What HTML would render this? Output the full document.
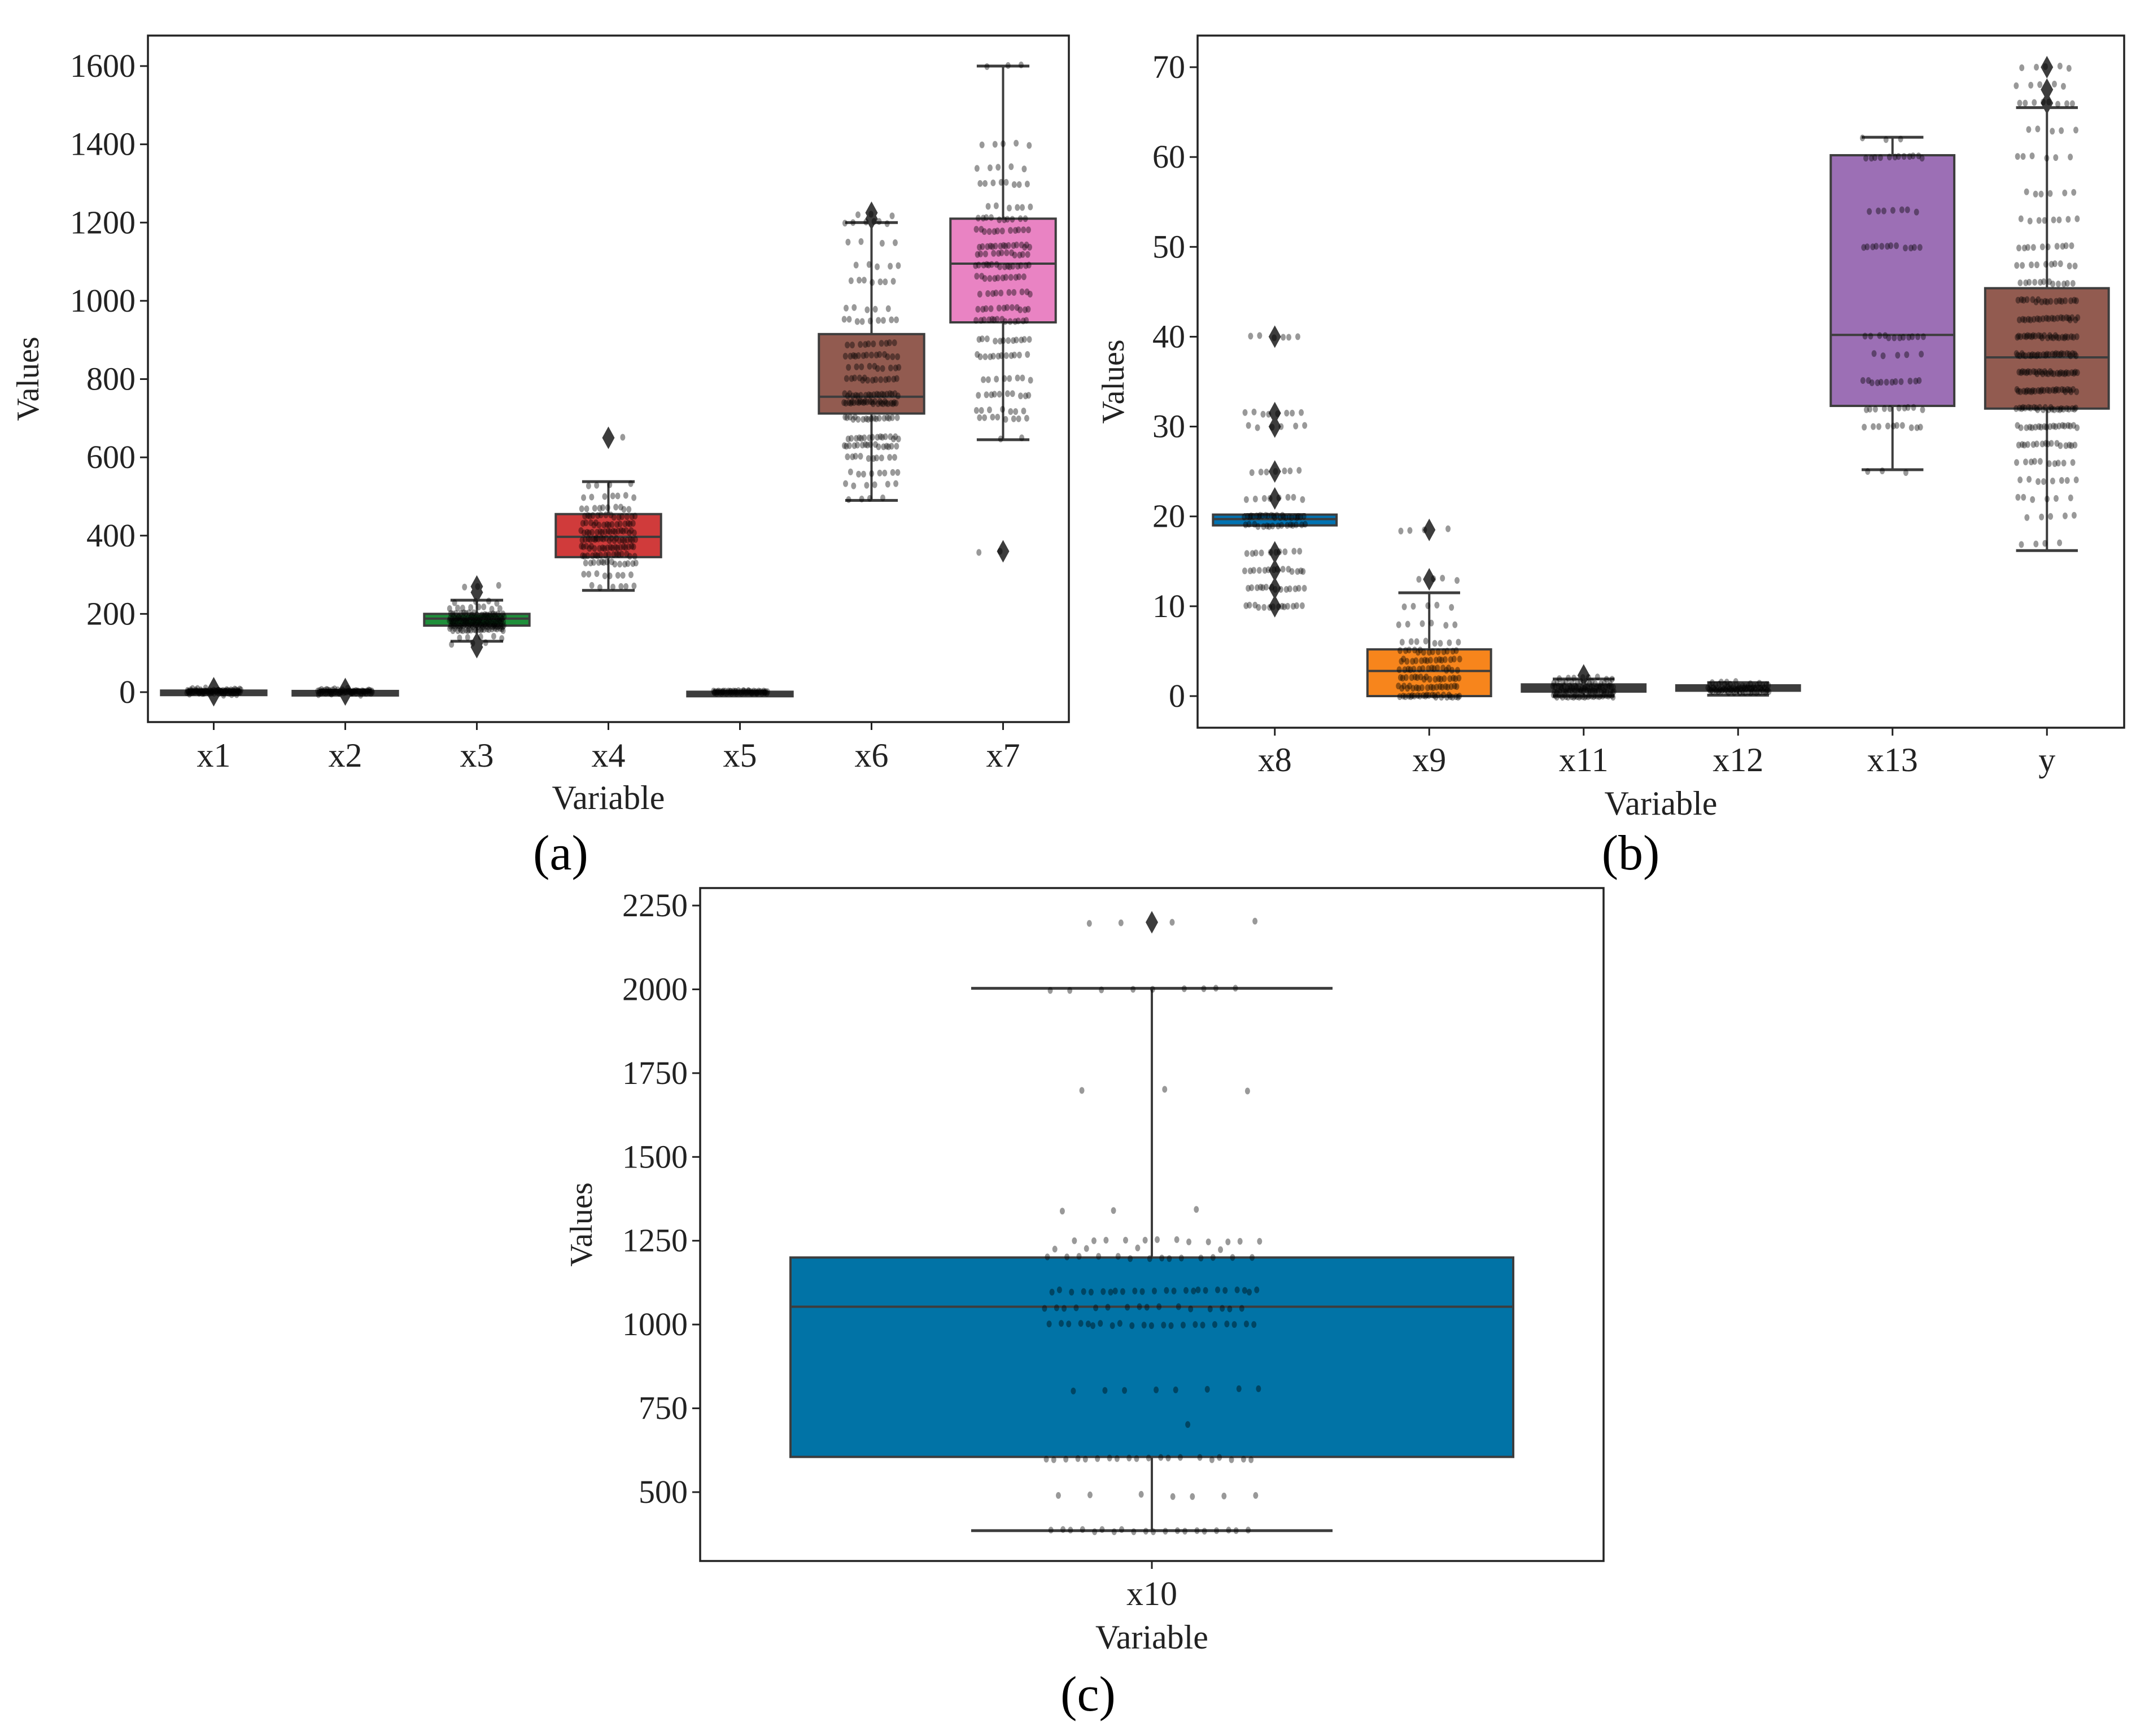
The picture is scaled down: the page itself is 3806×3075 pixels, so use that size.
<!DOCTYPE html>
<html><head><meta charset="utf-8">
<style>
html,body{margin:0;padding:0;background:#fff;}
svg{display:block;font-family:"Liberation Serif",serif;}
</style></head>
<body>
<svg id="chart" width="3806" height="3075" viewBox="0 0 3806 3075" xmlns="http://www.w3.org/2000/svg"></svg>
<script>
// ---- Panel (a) data ----
const aCats = ["x1","x2","x3","x4","x5","x6","x7"];
const aColors = ["#3d3d3d","#3d3d3d","#1e8f3a","#d03b3b","#3d3d3d","#925b50","#e983c3"];
const aQ1 = [0, 0, 170, 345, 0, 712, 945];
const aMed = [2, 1, 188, 397, 0, 755, 1095];
const aQ3 = [4, 3, 200, 455, 1, 915, 1210];
const aLo = [0, 0, 130, 260, 0, 490, 645];
const aHi = [6, 5, 235, 538, 2, 1200, 1600];
const aFliers = [[-8,10],[-6,8],[115,125,255,270],[650],[],[1210,1225],[360]];
const aPoints = [
 [[0,40],[3,30],[8,8],[-5,6]],
 [[0,40],[3,20],[7,6],[-5,5]],
 [[160,25],[170,35],[180,40],[190,35],[200,18],[215,8],[230,4],[140,5],[125,3],[270,3]],
 [[270,6],[300,8],[330,14],[350,16],[370,20],[390,22],[410,20],[430,16],[450,14],[470,10],[500,7],[530,4],[650,1]],
 [[0,50],[1,15]],
 [[495,4],[530,6],[560,8],[600,10],[630,16],[650,16],[700,18],[740,28],[760,20],[800,14],[830,10],[860,14],[890,10],[950,9],[980,5],[1050,7],[1090,5],[1150,4],[1200,6],[1220,3]],
 [[650,2],[700,8],[720,7],[760,10],[800,8],[860,12],[900,12],[950,14],[980,12],[1020,10],[1060,12],[1090,16],[1120,12],[1140,16],[1180,12],[1210,10],[1240,6],[1300,8],[1340,5],[1400,5],[1600,3],[360,2]]
];
const aTicks = [0,200,400,600,800,1000,1200,1400,1600];

// ---- Panel (b) data ----
const bCats = ["x8","x9","x11","x12","x13","y"];
const bColors = ["#0173b2","#f7851c","#3d3d3d","#3d3d3d","#9c6fb5","#925b50"];
const bQ1 = [19.0, 0.0, 0.5, 0.6, 32.3, 32.0];
const bMed = [19.7, 2.8, 0.9, 0.8, 40.2, 37.7];
const bQ3 = [20.2, 5.2, 1.3, 1.2, 60.2, 45.4];
const bLo = [19.0, 0.0, 0.0, 0.1, 25.2, 16.2];
const bHi = [20.2, 11.5, 1.9, 1.5, 62.2, 65.5];
const bFliers = [[10,12,14,16,22,25,30,31.5,40],[13,18.5],[2.3],[],[],[66,67.5,70]];
const bPoints = [
 [[10,14],[12,14],[14,14],[16,10],[19,16],[20,26],[22,8],[25,7],[30,6],[31.5,8],[40,6]],
 [[0,26],[1,20],[2,18],[3,16],[4,16],[5,14],[6,8],[8,6],[10,5],[13,4],[18.5,4]],
 [[0,35],[0.5,28],[1,28],[1.5,14],[2,8]],
 [[0.5,28],[0.8,28],[1.2,16],[1.5,6]],
 [[25,3],[30,10],[32,10],[35,12],[38,5],[40,12],[50,12],[54,7],[60,12],[62,3]],
 [[17,4],[20,5],[22,6],[24,8],[26,10],[28,16],[30,20],[32,26],[34,28],[36,30],[38,30],[40,28],[42,22],[44,18],[46,12],[48,10],[50,10],[53,8],[56,6],[60,6],[63,5],[66,8],[68,5],[70,5]]
];
const bTicks = [0,10,20,30,40,50,60,70];

// ---- Panel (c) data ----
const cCats = ["x10"];
const cColors = ["#0173a6"];
const cQ1 = [605];
const cMed = [1053];
const cQ3 = [1200];
const cLo = [385];
const cHi = [2003];
const cFliers = [[2200]];
const cPoints = [[[385,20],[490,7],[600,20],[700,1],[805,8],[1000,22],[1050,16],[1100,24],[1200,14],[1225,4],[1250,12],[1340,3],[1700,3],[2000,9],[2200,4]]];
const cTicks = [500,750,1000,1250,1500,1750,2000,2250];

const NS = "http://www.w3.org/2000/svg";
const svg = document.getElementById("chart");
function mk(tag, attrs, parent){
  const e = document.createElementNS(NS, tag);
  for (const k in attrs) e.setAttribute(k, attrs[k]);
  (parent||svg).appendChild(e);
  return e;
}
const EDGE = "#3d3d3d";

function panel(id, g, cats, colors, q1, med, q3, lo, hi, fliers, points, ticks){
  const grp = mk("g", {});
  
  
  const yS = v => g.y0 + (v - g.v0) * (g.y1 - g.y0) / (g.v1 - g.v0);
  const step = (g.right - g.left) / cats.length;
  const xS = i => g.left + step * (i + 0.5);
  const bw = step * 0.8;
  cats.forEach((c, i) => {
    const cx = xS(i);
    const wl = mk("line", {x1:cx, x2:cx, y1:yS(lo[i]), y2:yS(q1[i]), stroke:EDGE, "stroke-width":4}, grp);
    
    
    const wh = mk("line", {x1:cx, x2:cx, y1:yS(q3[i]), y2:yS(hi[i]), stroke:EDGE, "stroke-width":4}, grp);
    
    
    [lo[i], hi[i]].forEach(v => {
      const cap = mk("line", {x1:cx - bw/4, x2:cx + bw/4, y1:yS(v), y2:yS(v), stroke:EDGE, "stroke-width":5}, grp);
      
      
    });
    const top = yS(q3[i]), bot = yS(q1[i]);
    const r = mk("rect", {x:cx - bw/2, y:Math.min(top,bot), width:bw, height:Math.max(Math.abs(bot-top),8), fill:colors[i], stroke:EDGE, "stroke-width":4}, grp);
    
    
    const m = mk("line", {x1:cx - bw/2, x2:cx + bw/2, y1:yS(med[i]), y2:yS(med[i]), stroke:EDGE, "stroke-width":4}, grp);
    
    
    fliers[i].forEach(v => {
      const y = yS(v);
      const d = mk("polygon", {points:`${cx},${y-20} ${cx+11},${y} ${cx},${y+20} ${cx-11},${y}`, fill:EDGE}, grp);
      
      
    });
    let k = 0;
    points[i].forEach(([v, n]) => {
      for (let j = 0; j < n; j++) {
        k++;
        const f = ((k * 0.6180339887 + i * 0.37) % 1) - 0.5;
        const p = mk("ellipse", {cx:cx + f * step * g.jit, cy:yS(v) + ((k*7)%5 - 2), rx:4.5, ry:6, fill:"#000", "fill-opacity":0.4}, grp);
        
        
      }
    });
  });
  const fr = mk("rect", {x:g.left, y:g.top, width:g.right-g.left, height:g.bottom-g.top, fill:"none", stroke:"#222", "stroke-width":3.5}, grp);
  
  
  ticks.forEach(t => {
    const y = yS(t);
    const tl = mk("line", {x1:g.left-14, x2:g.left, y1:y, y2:y, stroke:"#222", "stroke-width":3}, grp);
    
    
    const tx = mk("text", {x:g.left-22, y:y+19, "text-anchor":"end", "font-size":58, fill:"#222"}, grp);
    tx.textContent = t;
    
    
  });
  cats.forEach((c, i) => {
    const x = xS(i);
    const tl = mk("line", {x1:x, x2:x, y1:g.bottom, y2:g.bottom+14, stroke:"#222", "stroke-width":3}, grp);
    
    
    const tx = mk("text", {x:x, y:g.xlabY, "text-anchor":"middle", "font-size":60, fill:"#222"}, grp);
    tx.textContent = c;
    
    
  });
  const xt = mk("text", {x:(g.left+g.right)/2, y:g.xtitleY, "text-anchor":"middle", "font-size":60, fill:"#222"}, grp);
  xt.textContent = "Variable";
  
  
  const ytY = (g.top+g.bottom)/2;
  const yt = mk("text", {x:g.ytitleX, y:ytY, "text-anchor":"middle", "font-size":56, fill:"#222", transform:`rotate(-90 ${g.ytitleX} ${ytY})`}, grp);
  yt.textContent = "Values";
  
  
  const cap = mk("text", {x:g.capX, y:g.capY, "text-anchor":"middle", "font-size":88, fill:"#000"}, grp);
  cap.textContent = "(" + id + ")";
  
  
}

panel("a", {left:262, right:1893, top:63, bottom:1279, v0:0, y0:1226, v1:1600, y1:117, xlabY:1358, xtitleY:1433, ytitleX:68, capX:993, capY:1540, jit:0.42},
  aCats, aColors, aQ1, aMed, aQ3, aLo, aHi, aFliers, aPoints, aTicks);
panel("b", {left:2121, right:3762, top:63, bottom:1289, v0:0, y0:1233, v1:70, y1:119, xlabY:1366, xtitleY:1443, ytitleX:1990, capX:2888, capY:1540, jit:0.4},
  bCats, bColors, bQ1, bMed, bQ3, bLo, bHi, bFliers, bPoints, bTicks);
panel("c", {left:1240, right:2840, top:1573, bottom:2765, v0:500, y0:2643, v1:2250, y1:1604, xlabY:2843, xtitleY:2920, ytitleX:1048, capX:1927, capY:3030, jit:0.24},
  cCats, cColors, cQ1, cMed, cQ3, cLo, cHi, cFliers, cPoints, cTicks);
</script>
</body></html>
